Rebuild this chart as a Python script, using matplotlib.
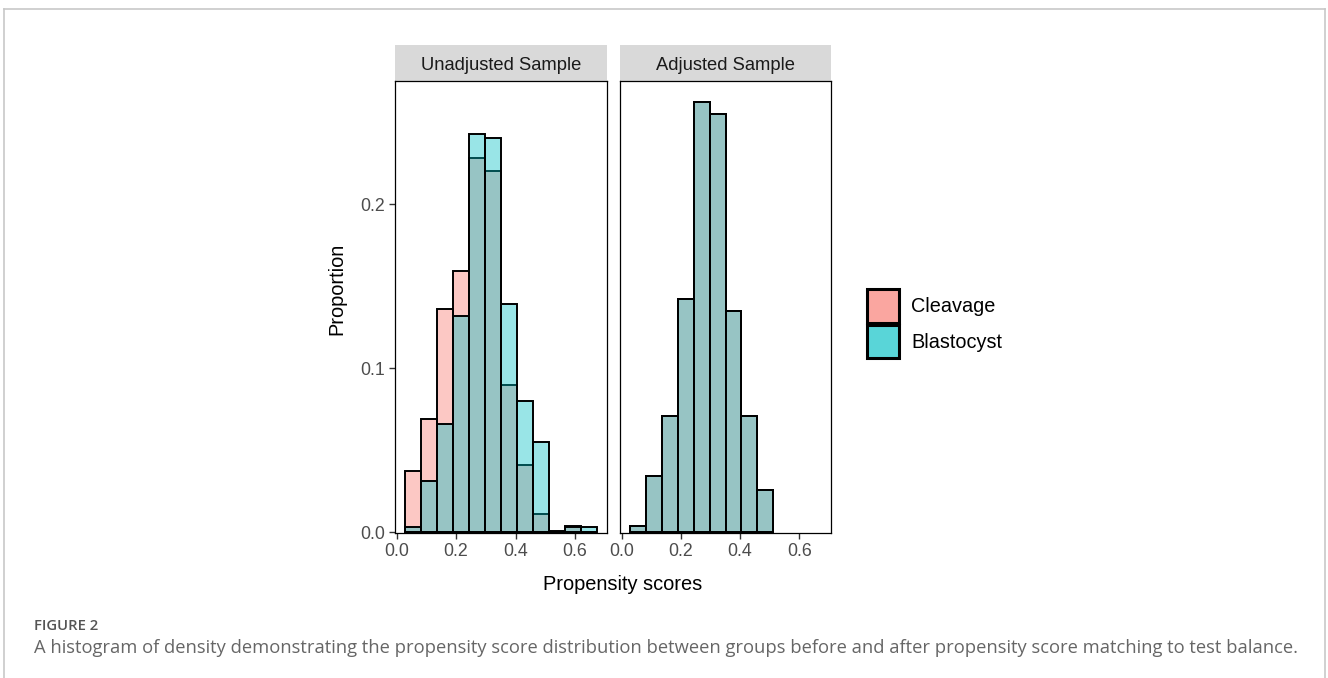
import matplotlib
matplotlib.use("Agg")
import matplotlib.pyplot as plt
from matplotlib.patches import Patch, Rectangle
from matplotlib.lines import Line2D
from matplotlib.colors import to_rgba

# histogram bins (propensity score)
bin_edges = [0.027, 0.081, 0.135, 0.189, 0.243, 0.297, 0.351, 0.405, 0.459, 0.513, 0.567, 0.621, 0.675]
bin_width = 0.054

# proportions per bin
cleavage_unadj = [0.037, 0.069, 0.136, 0.159, 0.228, 0.220, 0.090, 0.041, 0.011, 0.001, 0.0035, 0.0]
blasto_unadj = [0.003, 0.031, 0.066, 0.132, 0.243, 0.240, 0.139, 0.080, 0.055, 0.0, 0.003, 0.003]
cleavage_adj = [0.004, 0.034, 0.071, 0.142, 0.262, 0.255, 0.135, 0.071, 0.026]
blasto_adj = [0.004, 0.034, 0.071, 0.142, 0.262, 0.255, 0.135, 0.071, 0.026]

groups = ["Cleavage", "Blastocyst"]
panels = ["Unadjusted Sample", "Adjusted Sample"]
x_ticks = [0.0, 0.2, 0.4, 0.6]
y_ticks = [0.0, 0.1, 0.2]

pink = "#F8766D"
cyan = "#00BFC4"

plt.rcParams["font.family"] = ["Liberation Sans", "DejaVu Sans"]

fig = plt.figure(figsize=(13.28, 6.78), dpi=100)

W, H = 1328, 678
def fx(px):
    return px / W
def fy(py):
    return 1 - py / H

ax1 = fig.add_axes([fx(395), fy(533), fx(607) - fx(395), fy(81) - fy(533)])
ax2 = fig.add_axes([fx(620), fy(533), fx(831) - fx(620), fy(81) - fy(533)])

data = [(cleavage_unadj, blasto_unadj), (cleavage_adj, blasto_adj)]

for ax, title, (cl, bl) in zip([ax1, ax2], panels, data):
    ax.bar(bin_edges[:len(cl)], cl, width=bin_width, align="edge",
           facecolor=to_rgba(pink, 0.4), edgecolor="black", linewidth=1.4, zorder=2)
    ax.bar(bin_edges[:len(bl)], bl, width=bin_width, align="edge",
           facecolor=to_rgba(cyan, 0.4), edgecolor="black", linewidth=1.4, zorder=3)
    ax.set_xlim(-0.0054, 0.7074)
    ax.set_ylim(-0.0005, 0.275)
    ax.set_xticks(x_ticks)
    ax.set_xticklabels(["%.1f" % v for v in x_ticks])
    ax.set_yticks(y_ticks)
    ax.set_yticklabels(["%.1f" % v for v in y_ticks])
    ax.tick_params(colors="#333333", labelcolor="#4D4D4D", labelsize=12.8,
                   length=4, width=1.0, pad=3)
    for s in ax.spines.values():
        s.set_color("black")
        s.set_linewidth(0.9)
    # facet strip
    ax.add_patch(Rectangle((0, 1.0), 1, 36 / 452, transform=ax.transAxes,
                           facecolor="#D9D9D9", edgecolor="none", clip_on=False))
    ax.text(0.5, 1.0 + 16 / 452, title, transform=ax.transAxes, ha="center",
            va="center", fontsize=13.2, color="#1A1A1A")

ax2.tick_params(axis="y", left=False, labelleft=False)

fig.text(fx(623), fy(584), "Propensity scores", ha="center", va="center",
         fontsize=14.4, color="black")
fig.text(fx(337), fy(289), "Proportion", ha="center", va="center",
         fontsize=14.4, color="black", rotation=90)

handles = [Patch(facecolor=to_rgba(pink, 0.65), edgecolor="black", linewidth=2.2),
           Patch(facecolor=to_rgba(cyan, 0.65), edgecolor="black", linewidth=2.2)]
fig.legend(handles, groups, loc="upper left", bbox_to_anchor=(fx(867), fy(289)),
           frameon=False, fontsize=14.3, handlelength=1.62, handleheight=2.25,
           labelspacing=0.08, handletextpad=0.6, borderpad=0, borderaxespad=0)

# page frame
fig.add_artist(Line2D([fx(4), fx(4)], [0, fy(9)], color="#C8C8C8", lw=1.2))
fig.add_artist(Line2D([fx(4), fx(1325)], [fy(9), fy(9)], color="#C8C8C8", lw=1.2))
fig.add_artist(Line2D([fx(1325), fx(1325)], [0, fy(9)], color="#C8C8C8", lw=1.2))

fig.text(fx(34), fy(626), "FIGURE 2", ha="left", va="center", fontsize=10.7,
         color="#555555", fontweight="semibold", family=["Open Sans", "DejaVu Sans"])
fig.text(fx(34), fy(648), "A histogram of density demonstrating the propensity score distribution between groups before and after propensity score matching to test balance.",
         ha="left", va="center", fontsize=13.2, color="#666666",
         family=["Open Sans", "DejaVu Sans"])

fig.savefig("out.png", dpi=100)
